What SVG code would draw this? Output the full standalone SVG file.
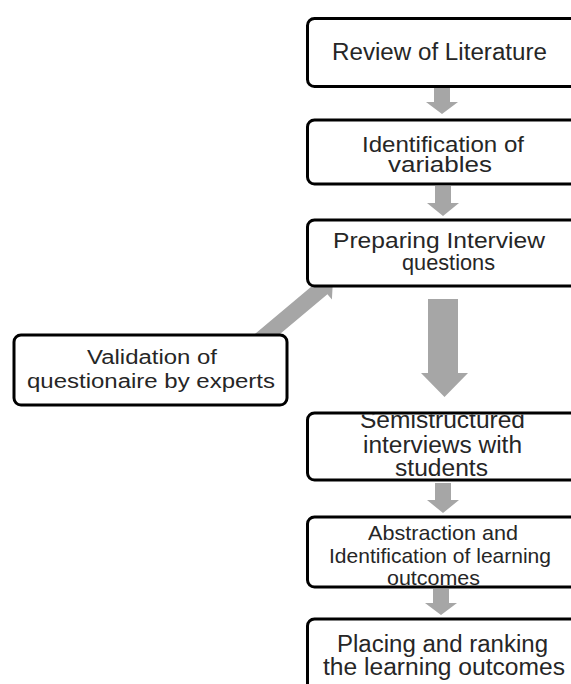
<svg xmlns="http://www.w3.org/2000/svg" width="571" height="684" viewBox="0 0 571 684">
<style>
.box{fill:#fff;stroke:#000;stroke-width:3}
.t{font-family:"Liberation Sans",Arial,sans-serif;fill:#262626;text-anchor:middle}
.arr{fill:#a6a6a6}
</style>
<defs>
<clipPath id="c4"><rect x="307" y="414.5" width="300" height="64"/></clipPath>
</defs>
<rect width="571" height="684" fill="#fff"/>
<g id="connectors">
<polygon class="arr" points="434,88 450,88 450,102 458,102 442,114 426,102 434,102"/>
<polygon class="arr" points="435,186 451,186 451,203 459,203 443,216 427,203 435,203"/>
<polygon class="arr" points="428,299 458,299 458,373 468,373 444.5,397 421,373 428,373"/>
<polygon class="arr" points="435,483 451,483 451,500 459,500 443,513 427,500 435,500"/>
<polygon class="arr" points="433,589 449,589 449,603 457,603 441,615 425,603 433,603"/>
<polygon class="arr" transform="translate(333,279) rotate(-40)" points="0,0 -14,-15 -14,-8 -100,-8 -100,8 -14,8 -14,15"/>
</g>
<g id="n1">
<rect class="box" x="307.5" y="18.5" width="300" height="68" rx="7"/>
<text class="t" font-size="23" x="439.5" y="60" textLength="215" lengthAdjust="spacingAndGlyphs">Review of Literature</text>
</g>
<g id="n2">
<rect class="box" x="307.5" y="120" width="300" height="64" rx="7"/>
<text class="t" font-size="22" x="443" y="152" textLength="162" lengthAdjust="spacingAndGlyphs">Identification of</text>
<text class="t" font-size="22" x="440" y="172" textLength="104" lengthAdjust="spacingAndGlyphs">variables</text>
</g>
<g id="n3">
<rect class="box" x="307.5" y="220" width="300" height="66" rx="7"/>
<text class="t" font-size="22" x="439" y="248" textLength="212" lengthAdjust="spacingAndGlyphs">Preparing Interview</text>
<text class="t" font-size="22" x="448.5" y="270" textLength="93" lengthAdjust="spacingAndGlyphs">questions</text>
</g>
<g id="n_validation">
<rect class="box" x="14" y="335" width="273" height="70" rx="7"/>
<text class="t" font-size="20" x="152" y="364" textLength="130" lengthAdjust="spacingAndGlyphs">Validation of</text>
<text class="t" font-size="20" x="151" y="388" textLength="248" lengthAdjust="spacingAndGlyphs">questionaire by experts</text>
</g>
<g id="n4">
<rect class="box" x="307.5" y="413" width="300" height="67" rx="7"/>
<g clip-path="url(#c4)">
<text class="t" font-size="23" x="442.5" y="428" textLength="165" lengthAdjust="spacingAndGlyphs">Semistructured</text>
<text class="t" font-size="23" x="442.5" y="453" textLength="159" lengthAdjust="spacingAndGlyphs">interviews with</text>
<text class="t" font-size="23" x="441.5" y="476" textLength="93" lengthAdjust="spacingAndGlyphs">students</text>
</g>
</g>
<g id="n5">
<rect class="box" x="307.5" y="517" width="300" height="70" rx="7"/>
<text class="t" font-size="21" x="443" y="540" textLength="150" lengthAdjust="spacingAndGlyphs">Abstraction and</text>
<text class="t" font-size="21" x="440" y="563" textLength="222" lengthAdjust="spacingAndGlyphs">Identification of learning</text>
<text class="t" font-size="21" x="433.5" y="585" textLength="93" lengthAdjust="spacingAndGlyphs">outcomes</text>
</g>
<g id="n6">
<rect class="box" x="307.5" y="619" width="300" height="90" rx="7"/>
<text class="t" font-size="23" x="442.5" y="652" textLength="211" lengthAdjust="spacingAndGlyphs">Placing and ranking</text>
<text class="t" font-size="23" x="444" y="675" textLength="242" lengthAdjust="spacingAndGlyphs">the learning outcomes</text>
</g>
</svg>
